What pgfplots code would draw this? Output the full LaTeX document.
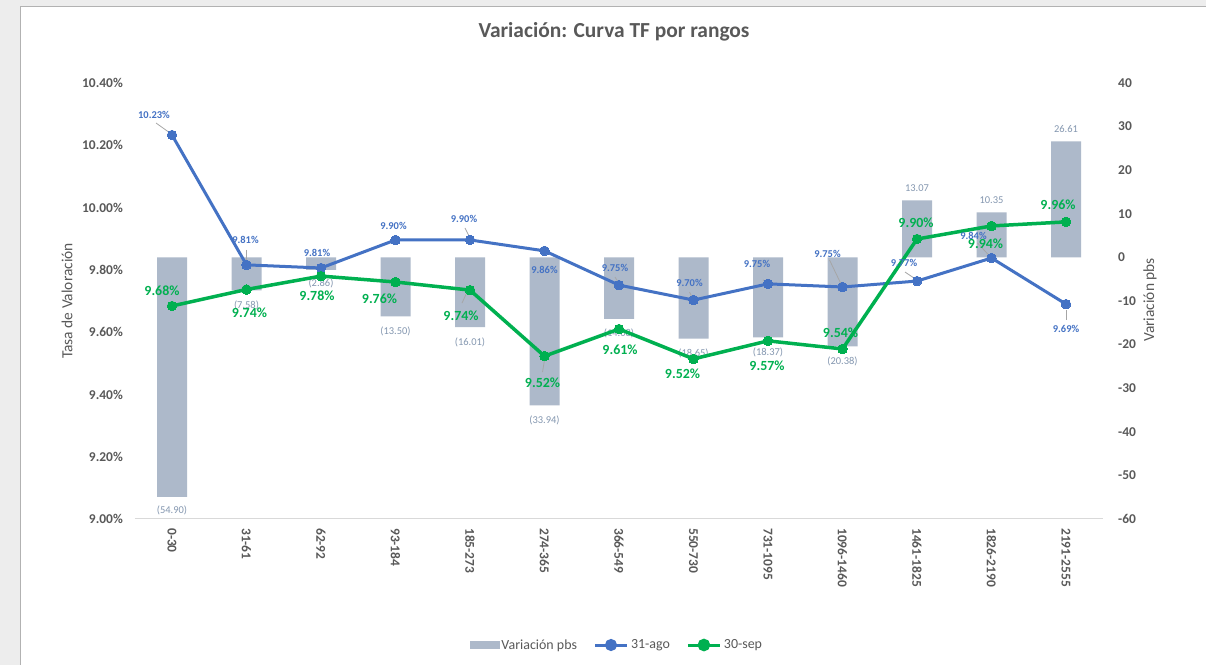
\documentclass[border=0pt]{standalone}
\usepackage{pgfplots}
\pgfplotsset{compat=1.18}
\usepackage{pgfplotstable}
\usepackage{fontspec}
\setmainfont{Carlito}

\definecolor{cblue}{HTML}{4472C4}
\definecolor{cgreen}{HTML}{00B050}
\definecolor{cbar}{HTML}{ADB9CA}
\definecolor{cbarlab}{HTML}{8497B0}
\definecolor{ctext}{HTML}{595959}
\definecolor{clead}{HTML}{A6A6A6}
\definecolor{caxis}{HTML}{D9D9D9}

\pgfplotstableread{
x bar ago sep
0 -54.90 10.233 9.684
1 -7.58 9.816 9.737
2 -2.86 9.806 9.780
3 -13.50 9.896 9.761
4 -16.01 9.896 9.735
5 -33.94 9.861 9.523
6 -14.08 9.751 9.610
7 -18.65 9.703 9.514
8 -18.37 9.755 9.572
9 -20.38 9.745 9.546
10 13.07 9.764 9.899
11 10.35 9.838 9.941
12 26.61 9.690 9.954
}\datatable

\newcommand{\bl}[5]{\node[font=\fontsize{10.5}{12}\bfseries\selectfont, text=cblue, inner sep=0pt, xshift=#3bp, yshift=#4bp] at (axis cs:#1,#2) {#5};}
\newcommand{\gl}[5]{\node[font=\fontsize{14}{16}\bfseries\selectfont, text=cgreen, inner sep=0pt, xshift=#3bp, yshift=#4bp] at (axis cs:#1,#2) {#5};}
\newcommand{\barl}[4]{\node[font=\fontsize{10.5}{12}\selectfont, text=cbarlab, inner sep=0pt, yshift=#3bp] at (axis cs:#1,#2) {#4};}
\newcommand{\lead}[6]{\draw[clead, line width=0.8bp] ([shift={(#3bp,#4bp)}]axis cs:#1,#2) -- ([shift={(#5bp,#6bp)}]axis cs:#1,#2);}

\pgfplotsset{base/.style={
  scale only axis, width=968.5bp, height=436bp,
  at={(134.75bp,146bp)}, anchor=south west,
  xmin=-0.5, xmax=12.5, clip=false,
  major tick length=0pt, tick style={draw=none},
}}

\begin{document}
\begin{tikzpicture}
\path[use as bounding box] (0,0) rectangle (1206bp,665bp);
\fill[black!7] (0,0) rectangle (1206bp,665bp);
\fill[white] (20bp,0) rectangle (1206bp,659bp);
\draw[black!30, line width=0.8bp] (20bp,0) -- (20bp,659bp) -- (1206bp,659bp);

\node[font=\fontsize{21.5}{25}\bfseries\selectfont, text=ctext] at (614bp,633bp) {Variación: Curva TF por rangos};
\node[font=\fontsize{15.5}{18}\selectfont, text=ctext, rotate=90] at (67bp,364bp) {Tasa de Valoración};
\node[font=\fontsize{15.5}{18}\selectfont, text=ctext, rotate=90] at (1150bp,365bp) {Variación pbs};

% bars (right axis)
\begin{axis}[base,
  ymin=-60, ymax=40,
  axis y line*=right, axis x line*=bottom,
  x axis line style={draw=caxis, line width=1bp},
  y axis line style={draw=none},
  ytick={-60,-50,-40,-30,-20,-10,0,10,20,30,40},
  yticklabels={-60,-50,-40,-30,-20,-10,0,10,20,30,40},
  yticklabel style={anchor=west, inner sep=0pt, xshift=14.75bp, font=\fontsize{13.5}{16}\bfseries\selectfont, text=ctext},
  xtick={0,1,2,3,4,5,6,7,8,9,10,11,12},
  xticklabels={0-30,31-61,62-92,93-184,185-273,274-365,366-549,550-730,731-1095,1096-1460,1461-1825,1826-2190,2191-2555},
  xticklabel style={yshift=-9bp, rotate=-90, anchor=west, inner sep=0pt, font=\fontsize{13.5}{16}\bfseries\selectfont, text=ctext},
]
\addplot[ybar, bar width=30bp, fill=cbar, draw=none] table[x=x, y=bar]{\datatable};
\barl{0}{-54.90}{-14}{(54.90)}
\barl{1}{-7.58}{-15}{(7.58)}
\barl{2}{-2.86}{-14}{(2.86)}
\barl{3}{-13.50}{-15}{(13.50)}
\barl{4}{-16.01}{-15}{(16.01)}
\barl{5}{-33.94}{-15}{(33.94)}
\barl{6}{-14.08}{-15}{(14.08)}
\barl{7}{-18.65}{-15}{(18.65)}
\barl{8}{-18.37}{-15}{(18.37)}
\barl{9}{-20.38}{-15}{(20.38)}
\barl{10}{13.07}{12.5}{13.07}
\barl{11}{10.35}{12.5}{10.35}
\barl{12}{26.61}{12.5}{26.61}
\end{axis}

% lines (left axis)
\begin{axis}[base,
  ymin=9, ymax=10.4,
  axis y line*=left, hide x axis,
  y axis line style={draw=none},
  ytick={9,9.2,9.4,9.6,9.8,10,10.2,10.4},
  yticklabels={9.00\%,9.20\%,9.40\%,9.60\%,9.80\%,10.00\%,10.20\%,10.40\%},
  yticklabel style={anchor=east, inner sep=0pt, xshift=-11.75bp, font=\fontsize{13.5}{16}\bfseries\selectfont, text=ctext},
  legend style={at={(0.498,-0.289)}, anchor=center, draw=none, fill=none,
    font=\fontsize{14}{16}\selectfont, text=ctext,
    /tikz/every even column/.append style={column sep=14bp},
    nodes={inner sep=2.5bp}},
  legend columns=3, legend cell align=left,
]
\addlegendimage{legend image code/.code={\fill[cbar] (0bp,-3.5bp) rectangle (29bp,3.5bp);}}
\addlegendentry{Variación pbs}
\addplot[cblue, line width=3bp, mark=*, mark size=4.8bp, mark options={fill=cblue, draw=cblue, line width=0pt},
  legend image code/.code={\draw[cblue, line width=3bp] (0bp,0bp) -- (32bp,0bp); \fill[cblue] (16bp,0bp) circle (4.5bp);}]
  table[x=x, y=ago]{\datatable};
\addlegendentry{31-ago}
\addplot[cgreen, line width=3.5bp, mark=*, mark size=4.8bp, mark options={fill=cgreen, draw=cgreen, line width=0pt},
  legend image code/.code={\draw[cgreen, line width=3bp] (0bp,0bp) -- (32bp,0bp); \fill[cgreen] (16bp,0bp) circle (4.5bp);}]
  table[x=x, y=sep]{\datatable};
\addlegendentry{30-sep}

% leader lines
\lead{0}{10.233}{-16}{12}{-2}{2}
\lead{1}{9.816}{0}{15}{0}{2}
\lead{4}{9.896}{-5}{12}{0}{2}
\lead{6}{9.751}{-4}{8}{0}{2}
\lead{7}{9.703}{-4}{8}{-1}{2}
\lead{8}{9.755}{-5}{4}{-1}{1}
\lead{9}{9.745}{-13}{27}{-1}{2}
\lead{10}{9.764}{-12}{9}{0}{1}
\lead{11}{9.838}{-14}{15}{-1}{1}
\lead{12}{9.690}{0}{-6}{0}{-16}
\lead{4}{9.735}{-3}{-2}{-8}{-13}
\lead{5}{9.523}{0}{-4}{-2}{-16}

% blue labels
\bl{0}{10.233}{-18}{20}{10.23\%}
\bl{1}{9.816}{-1}{25}{9.81\%}
\bl{2}{9.806}{-4}{15}{9.81\%}
\bl{3}{9.896}{-2}{14}{9.90\%}
\bl{4}{9.896}{-6}{21}{9.90\%}
\bl{5}{9.861}{0}{-19}{9.86\%}
\bl{6}{9.751}{-4}{17}{9.75\%}
\bl{7}{9.703}{-4}{17}{9.70\%}
\bl{8}{9.755}{-11}{20}{9.75\%}
\bl{9}{9.745}{-15}{33}{9.75\%}
\bl{10}{9.764}{-13}{18}{9.77\%}
\bl{11}{9.838}{-18}{22}{9.84\%}
\bl{12}{9.690}{0}{-25}{9.69\%}

% green labels
\gl{0}{9.684}{-10}{15}{9.68\%}
\gl{1}{9.737}{3}{-23}{9.74\%}
\gl{2}{9.780}{-4}{-20}{9.78\%}
\gl{3}{9.761}{-16}{-17}{9.76\%}
\gl{4}{9.735}{-9}{-26}{9.74\%}
\gl{5}{9.523}{-2}{-27}{9.52\%}
\gl{6}{9.610}{1}{-21}{9.61\%}
\gl{7}{9.514}{-11}{-15}{9.52\%}
\gl{8}{9.572}{-1}{-25}{9.57\%}
\gl{9}{9.546}{-2}{16}{9.54\%}
\gl{10}{9.899}{-1}{16}{9.90\%}
\gl{11}{9.941}{-6}{-18}{9.94\%}
\gl{12}{9.954}{-8}{17}{9.96\%}
\end{axis}
\end{tikzpicture}
\end{document}
